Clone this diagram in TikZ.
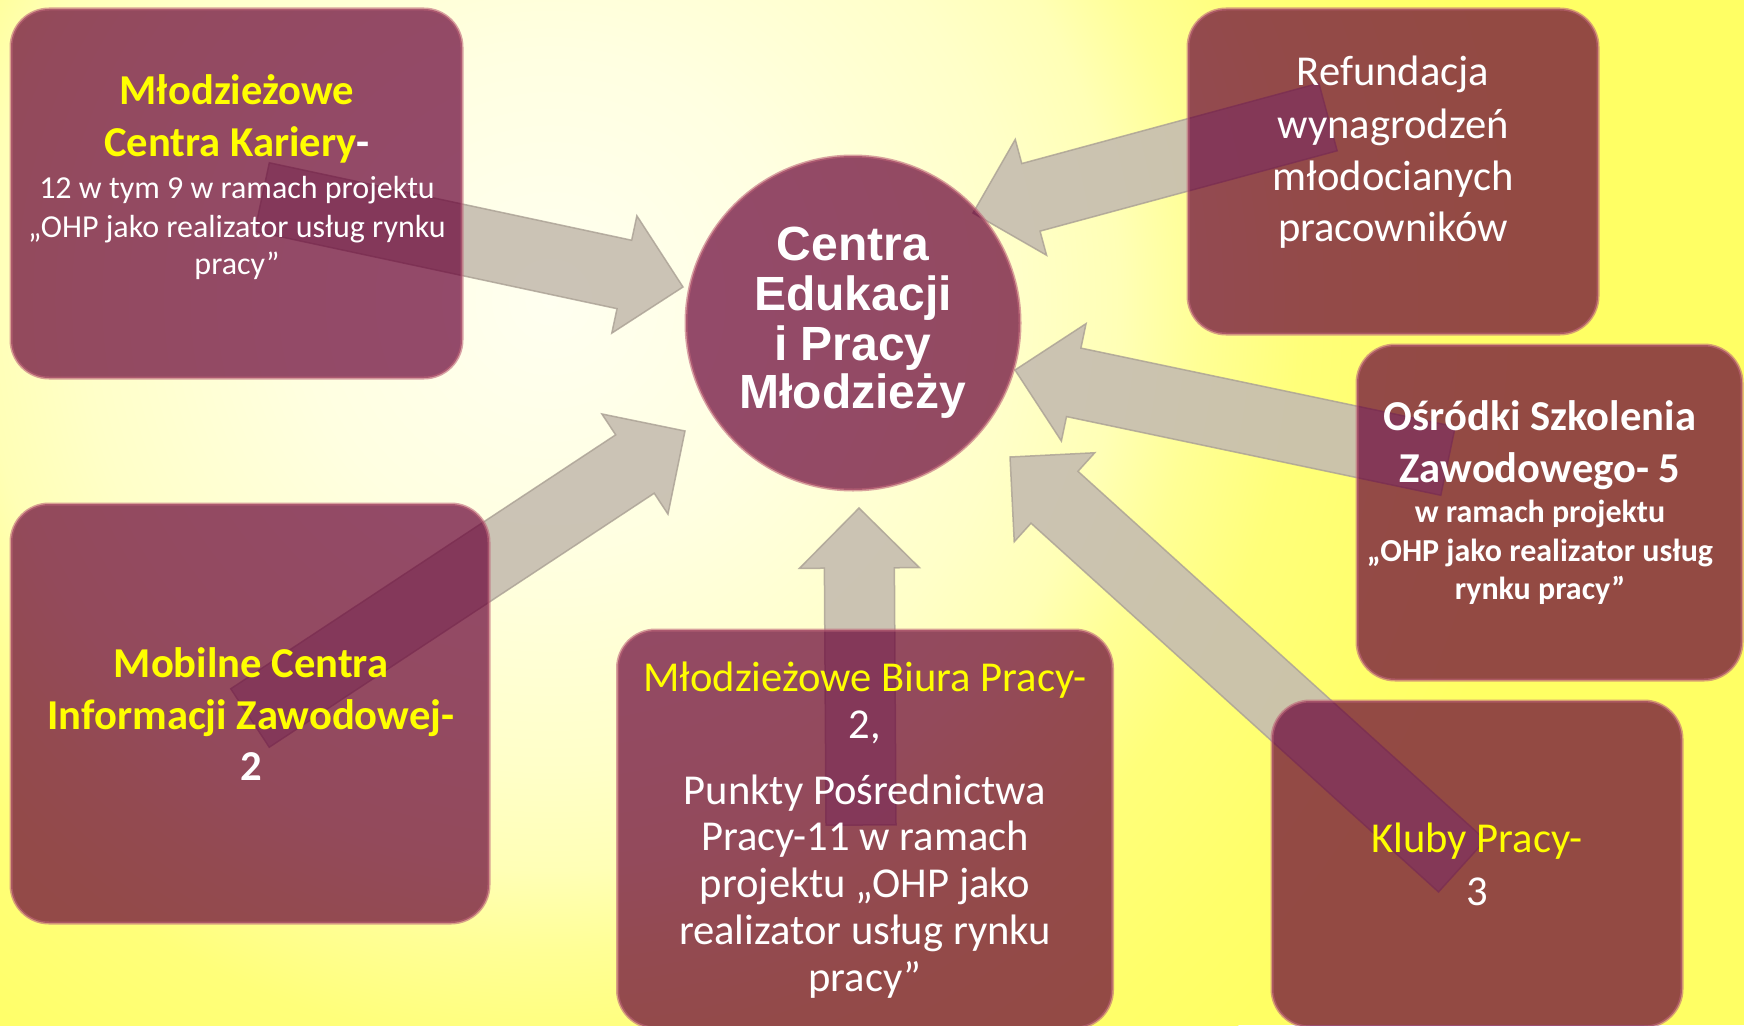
\documentclass[tikz,border=0pt]{standalone}
\usepackage{fontspec}
\setmainfont{Carlito}
\newfontfamily\centerfont{Liberation Sans}
\usetikzlibrary{calc}

\definecolor{boxc}{RGB}{104,0,54}
\definecolor{boxedge}{RGB}{190,100,120}
\definecolor{arrc}{RGB}{198,189,176}
\definecolor{arrline}{RGB}{170,160,148}
\definecolor{txtyel}{RGB}{255,255,0}
\definecolor{bgyel}{RGB}{255,255,100}
\definecolor{bga}{RGB}{255,255,240}
\definecolor{bgb}{RGB}{255,255,225}
\definecolor{bgc}{RGB}{255,255,200}
\definecolor{bgd}{RGB}{255,255,182}
\definecolor{bge}{RGB}{255,255,150}
\definecolor{bgf}{RGB}{255,255,122}
\definecolor{bgg}{RGB}{255,255,106}

\pgfdeclareradialshading{bgshade}{\pgfpoint{0bp}{0bp}}{%
 color(0bp)=(bga); color(6.25bp)=(bgb); color(11.75bp)=(bgc); color(14.25bp)=(bgd);
 color(16.25bp)=(bge); color(18.75bp)=(bgf); color(22.5bp)=(bgg); color(25bp)=(bgyel); color(50bp)=(bgyel)}

\tikzset{
 mbox/.style={draw=boxedge, line width=3pt, draw opacity=0.6, fill=boxc, fill opacity=0.71,
   rounded corners=38pt, inner sep=0pt},
 arrowst/.style={fill=arrc, fill opacity=0.9, draw=arrline, draw opacity=0.8, line width=1.5pt, line join=miter},
 lbl/.style={anchor=base, inner sep=0pt, text=white},
 big/.style={lbl, font=\fontsize{42.6}{51}\selectfont},
 bigb/.style={lbl, font=\fontsize{42.6}{51}\selectfont\bfseries},
 small/.style={lbl, font=\fontsize{32}{38}\selectfont},
 smallb/.style={lbl, font=\fontsize{32}{38}\selectfont\bfseries},
 ctext/.style={lbl, font=\centerfont\fontsize{48}{50}\selectfont\bfseries},
}

\newcommand\myblockarrow[2]{%
 \coordinate (ha) at ($(#2)!60pt!(#1)$);
 \path[arrowst] ($(#1)!35pt!90:(#2)$) -- ($(ha)!35pt!-90:(#1)$) -- ($(ha)!60pt!-90:(#1)$)
   -- (#2) -- ($(ha)!60pt!90:(#1)$) -- ($(ha)!35pt!90:(#1)$) -- ($(#1)!35pt!-90:(#2)$) -- cycle;
}

\begin{document}
\begin{tikzpicture}[x=1pt,y=-1pt]
\useasboundingbox (0,0) rectangle (1744,1025);
% background
\fill[bgyel] (0,0) rectangle (1744,1025);
\begin{scope}
 \clip (0,0) rectangle (1744,1025);
 \shade[shading=bgshade] (550,300) circle (1000pt);
\end{scope}

% arrow end points
\coordinate (t1) at (262,197);  \coordinate (p1) at (683,287);
\coordinate (t2) at (250,718);  \coordinate (p2) at (685,431);
\coordinate (t3) at (861,825);  \coordinate (p3) at (859,508);
\coordinate (t4) at (1328,117); \coordinate (p4) at (973,213);
\coordinate (t5) at (1448,461); \coordinate (p5) at (1015,370);
\coordinate (t6) at (1462,866); \coordinate (p6) at (1010,457);

% arrows
\myblockarrow{t1}{p1}
\myblockarrow{t2}{p2}
\myblockarrow{t3}{p3}
\myblockarrow{t4}{p4}
\myblockarrow{t5}{p5}
\myblockarrow{t6}{p6}

% center circle
\node (ctr) [circle, minimum size=334pt, inner sep=0pt, fill=boxc, fill opacity=0.71,
  draw=boxedge, draw opacity=0.6, line width=3pt] at (853,323) {};

% boxes
\node (b1) [mbox, minimum width=451pt, minimum height=369pt] at (236.5,193.5) {};
\node (b2) [mbox, minimum width=410pt, minimum height=325pt] at (1393,171.5) {};
\node (b3) [mbox, minimum width=385pt, minimum height=335pt] at (1549.5,512.5) {};
\node (b4) [mbox, minimum width=478pt, minimum height=419pt] at (250,713.5) {};
\node (b5) [mbox, minimum width=495pt, minimum height=398pt] at (865,829) {};
\node (b6) [mbox, minimum width=410pt, minimum height=326pt] at (1477,864) {};

% texts: top-left box
\node (t1a) [bigb, text=txtyel] at (237,104) {Młodzieżowe};
\node (t1b) [bigb, text=txtyel] at (237,156) {Centra Kariery\textcolor{white}{-}};
\node (t1c) [small] at (237,198) {12 w tym 9 w ramach projektu};
\node (t1d) [small] at (237,237) {„OHP jako realizator usług rynku};
\node (t1e) [small] at (237,274) {pracy”};

% circle text
\node (c1) [ctext] at (853,260) {Centra};
\node (c2) [ctext] at (853,310) {Edukacji};
\node (c3) [ctext] at (853,360) {i Pracy};
\node (c4) [ctext] at (853,408) {Młodzieży};

% top-right box
\node (r1) [big] at (1393,85) {Refundacja};
\node (r2) [big] at (1393,138) {wynagrodzeń};
\node (r3) [big] at (1393,190) {młodocianych};
\node (r4) [big] at (1393,241) {pracowników};

% right box
\node (o1) [bigb] at (1540,430) {Ośródki Szkolenia};
\node (o2) [bigb] at (1540,482) {Zawodowego- 5};
\node (o3) [smallb] at (1540,522) {w ramach projektu};
\node (o4) [smallb] at (1540,561) {„OHP jako realizator usług};
\node (o5) [smallb] at (1540,599) {rynku pracy”};

% bottom-left box
\node (m1) [bigb, text=txtyel] at (251,677) {Mobilne Centra};
\node (m2) [bigb, text=txtyel] at (251,729) {Informacji Zawodowej-};
\node (m3) [bigb] at (251,780) {2};

% bottom-centre box
\node (u1) [big, text=txtyel] at (865,691) {Młodzieżowe Biura Pracy-};
\node (u2) [big] at (865,738) {2,};
\node (u3) [big] at (865,804) {Punkty Pośrednictwa};
\node (u4) [big] at (865,850) {Pracy-11 w ramach};
\node (u5) [big] at (865,897) {projektu „OHP jako};
\node (u6) [big] at (865,944) {realizator usług rynku};
\node (u7) [big] at (865,991) {pracy”};

% bottom-right box
\node (k1) [big, text=txtyel] at (1477,852) {Kluby Pracy-};
\node (k2) [big] at (1477,905) {3};
\end{tikzpicture}
\end{document}
